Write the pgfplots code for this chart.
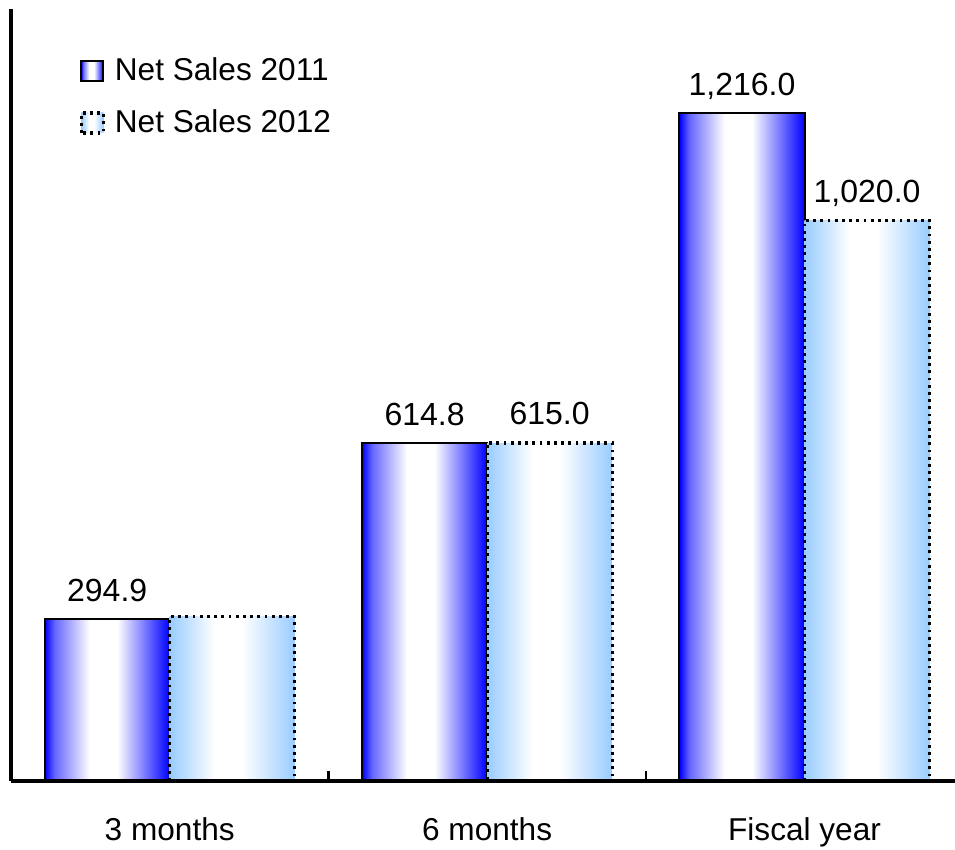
\documentclass[border=0pt]{standalone}
\usepackage{fontspec}
\setmainfont{Liberation Sans}
\usepackage{pgfplots}
\pgfplotsset{compat=1.18}
\definecolor{deepblue}{RGB}{0,0,255}
\definecolor{lightblue}{RGB}{153,204,255}
\pgfdeclarehorizontalshading{bluebar}{100bp}{color(0bp)=(deepblue); color(25bp)=(deepblue); color(29bp)=(deepblue!60!white); color(43bp)=(white); color(54bp)=(white); color(75bp)=(deepblue); color(100bp)=(deepblue)}
\pgfdeclarehorizontalshading{lightbar}{100bp}{color(0bp)=(lightblue); color(25bp)=(lightblue); color(43bp)=(white); color(54bp)=(white); color(75bp)=(lightblue); color(100bp)=(lightblue)}
\pgfplotsset{
  s2011/.style={draw=black, line width=1pt, shade, shading=bluebar, bar shift=-0.197},
  s2012/.style={draw=black, line width=1.6pt, dash pattern=on 1.4pt off 2.2pt, shade, shading=lightbar, bar shift=0.197},
}
\begin{document}
\fontsize{15.8}{19}\selectfont
\begin{tikzpicture}
\begin{axis}[
  at={(5.5pt,34.5pt)}, anchor=origin,
  scale only axis, width=472pt, height=386pt,
  xmin=0, xmax=2.974, ymin=0, ymax=1405,
  axis x line*=bottom, axis y line*=left,
  axis line style={line width=1.8pt, black},
  axis on top,
  ytick=\empty,
  xtick={1,2}, xticklabels={,},
  major tick length=-5pt,
  tick style={line width=1.2pt, black},
  extra x ticks={0.5,1.5,2.5},
  extra x tick labels={3 months,6 months,Fiscal year},
  extra x tick style={major tick length=0pt, tick label style={yshift=-13pt}},
  ybar, bar width=0.394,
  point meta=explicit symbolic,
  nodes near coords,
  nodes near coords style={font=\fontsize{16}{19}\selectfont, text depth=0pt, yshift=3pt},
  clip=false,
  legend style={at={(rel axis cs:0.066,0.948)}, anchor=north west, draw=none, fill=none,
    font=\fontsize{15.8}{19}\selectfont, row sep=8pt},
  legend cell align=left,
  legend image code/.code={\draw[#1] (0pt,-5pt) rectangle (11pt,5pt);},
  legend style={nodes={inner xsep=5pt}},
]
\addplot[s2011] coordinates {(0.5,294.9) [294.9]};
\addlegendentry{Net Sales 2011}
\addplot[s2012] coordinates {(0.5,299) []};
\addlegendentry{Net Sales 2012}
\addplot[s2011, forget plot] coordinates {(1.5,614.8) [614.8]};
\addplot[s2012, forget plot] coordinates {(1.5,615) [615.0]};
\addplot[s2011, forget plot] coordinates {(2.5,1216) [{1,216.0}]};
\addplot[s2012, forget plot] coordinates {(2.5,1020) [{1,020.0}]};
\end{axis}
\pgfresetboundingbox
\path[use as bounding box] (0,0) rectangle (477.5pt,425pt);
\end{tikzpicture}
\end{document}
